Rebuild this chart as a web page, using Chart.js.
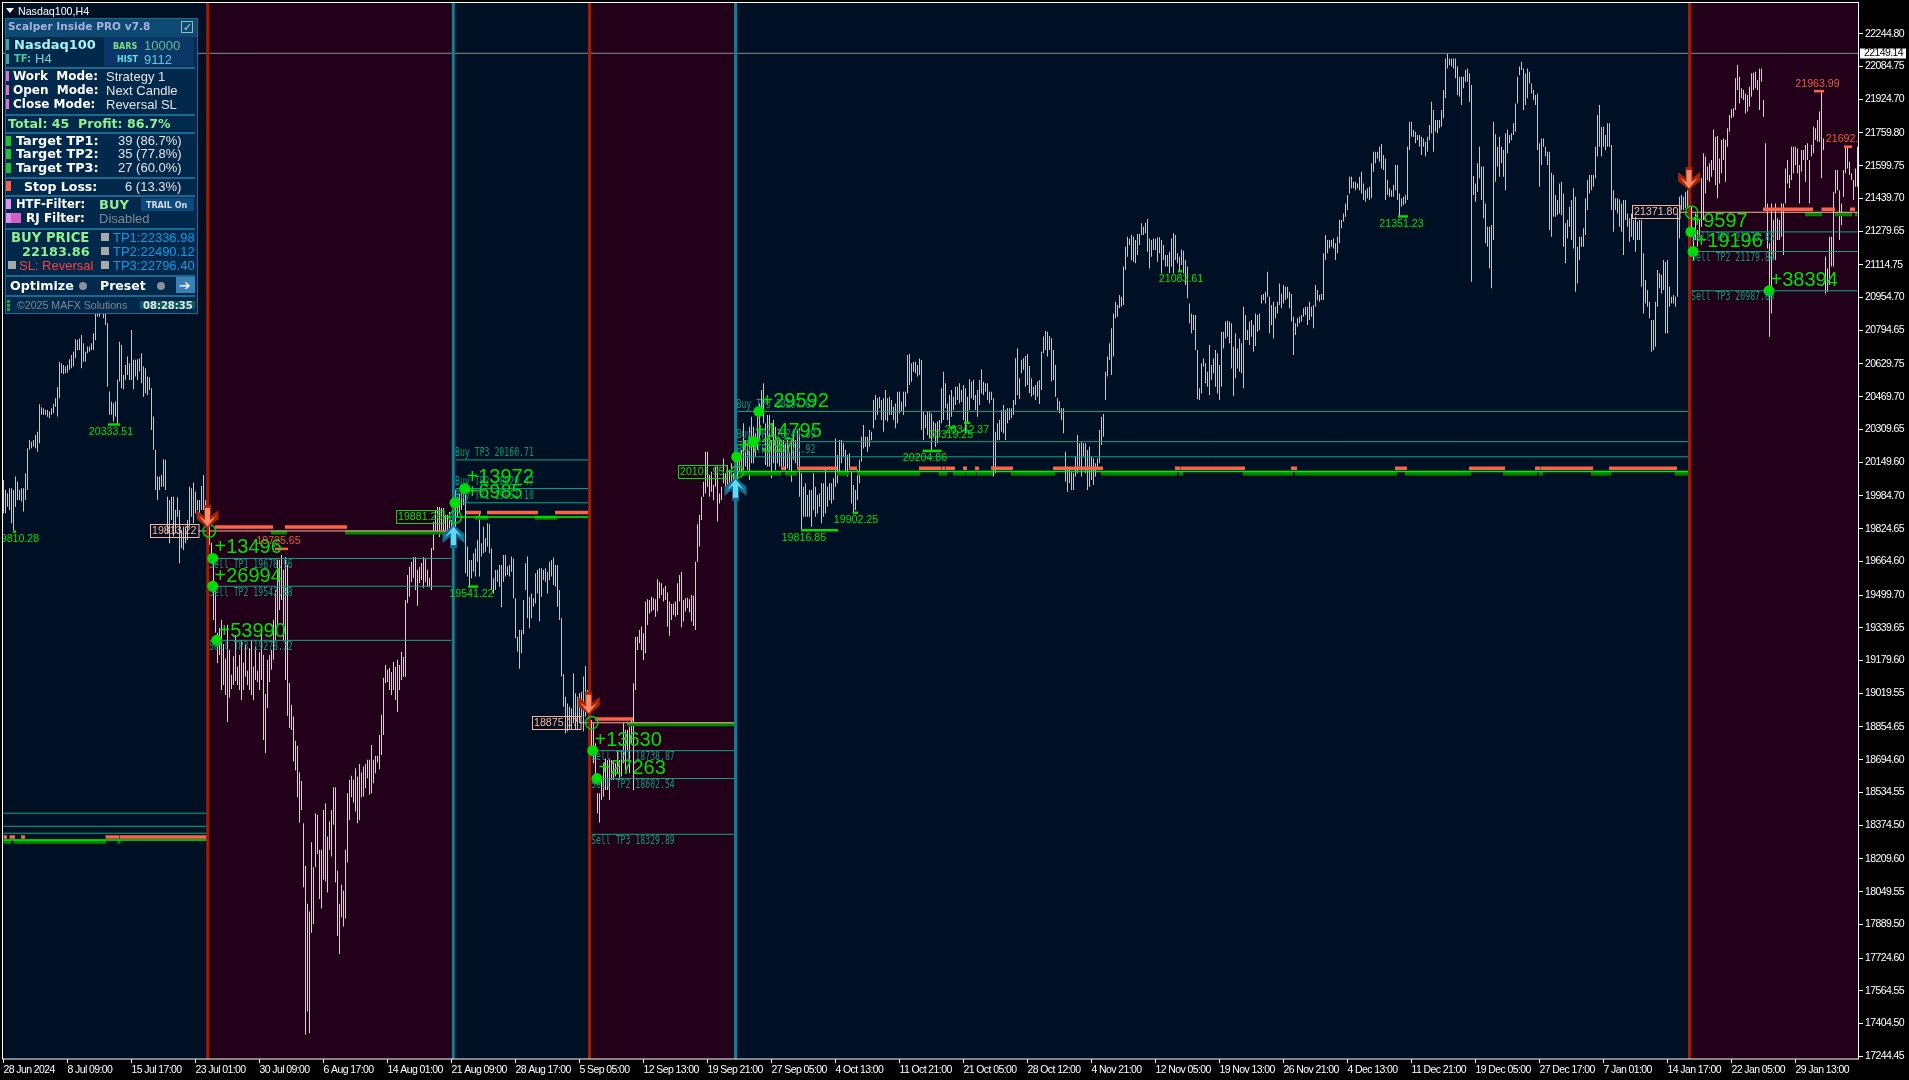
<!DOCTYPE html>
<html><head><meta charset="utf-8">
<script src="https://cdn.jsdelivr.net/npm/chart.js@4"></script>
<style>
html,body{margin:0;padding:0;background:#000;width:1909px;height:1080px;overflow:hidden}
#wrap{position:relative;width:1909px;height:1080px}
canvas{position:absolute;left:0;top:0}
#panel{position:absolute;left:5px;top:18px;width:191px;height:294px;background:#02294c;border:1px solid #1b6b93;box-sizing:content-box}
#panel div{position:absolute;white-space:pre;line-height:1}
.t{transform:translateY(-50%)}
</style></head><body><div id="wrap"><canvas id="c" width="1909" height="1080"></canvas><div id="title" style="position:absolute;left:18px;top:5px;color:#fff;font:10.67px 'Liberation Sans';white-space:pre">Nasdaq100,H4</div><div style="position:absolute;left:6px;top:8px;width:0;height:0;border-left:4px solid transparent;border-right:4px solid transparent;border-top:5px solid #fff"></div><div id="panel"></div></div>
<script>
const xLabels=["28 Jun 2024","8 Jul 09:00","15 Jul 17:00","23 Jul 01:00","30 Jul 09:00","6 Aug 17:00","14 Aug 01:00","21 Aug 09:00","28 Aug 17:00","5 Sep 05:00","12 Sep 13:00","19 Sep 21:00","27 Sep 05:00","4 Oct 13:00","11 Oct 21:00","21 Oct 05:00","28 Oct 12:00","4 Nov 21:00","12 Nov 05:00","19 Nov 13:00","26 Nov 21:00","4 Dec 13:00","11 Dec 21:00","19 Dec 05:00","27 Dec 17:00","7 Jan 01:00","14 Jan 17:00","22 Jan 05:00","29 Jan 13:00"];
const yTicks=[22244.80,22084.75,21924.70,21759.80,21599.75,21439.70,21279.65,21114.75,20954.70,20794.65,20629.75,20469.70,20309.65,20149.60,19984.70,19824.65,19664.60,19499.70,19339.65,19179.60,19019.55,18854.65,18694.60,18534.55,18374.50,18209.60,18049.55,17889.50,17724.60,17564.55,17404.50,17244.45];
const lastPrice=22149.14;
// [high, low] of each H4 bar, read section by section
const barsA=[[20063,19900],[20014,19900],[19998,19932],[20022,19916],[20022,19851],[20014,19818],[20079,19932],[20055,19965],[20014,19965],[20022,19957],[20022,19908],[20095,19965],[20218,20014],[20258,20210],[20250,20218],[20258,20226],[20283,20218],[20299,20201],[20433,20242],[20418,20381],[20413,20381],[20405,20381],[20405,20372],[20397,20364],[20413,20381],[20434,20389],[20462,20421],[20516,20373],[20641,20462],[20633,20584],[20625,20581],[20617,20584],[20625,20588],[20653,20601],[20674,20609],[20690,20617],[20751,20658],[20747,20698],[20755,20698],[20772,20609],[20731,20641],[20690,20641],[20715,20682],[20715,20690],[20731,20698],[20780,20698],[20878,20747],[20910,20861],[20959,20861],[20943,20878],[20910,20853],[20894,20821],[20829,20519],[20495,20381],[20446,20381],[20438,20348],[20446,20373],[20552,20337],[20739,20544],[20723,20511],[20576,20506],[20625,20552],[20666,20576],[20633,20552],[20796,20552],[20650,20506],[20650,20568],[20653,20552],[20658,20593],[20682,20535],[20617,20470],[20609,20487],[20568,20478],[20565,20503],[20511,20307],[20373,20210],[20210,20014],[20079,19965],[20079,20014],[20087,20030],[20164,20030],[20161,20014],[19981,19802],[19965,19753],[19981,19867],[19981,19786],[19916,19802],[19978,19883],[19916,19655],[19818,19729],[19835,19720],[19835,19753],[19867,19769],[20030,19835],[20022,19883],[20050,19851],[20006,19900],[19965,19916],[19965,19900],[20033,19916],[20087,19916],[19965,19835],[19932,19802]];
const barsB=[[19916,19745],[19755,19657],[19672,19378],[19559,19315],[19315,19168],[19339,19207],[19378,19036],[19260,19060],[19190,19011],[19354,18879],[19232,18997],[19110,19040],[19200,19060],[19305,19080],[19150,19060],[19207,19036],[19280,18987],[19170,19036],[19256,19100],[19130,19060],[19240,19036],[19280,19011],[19150,18987],[19250,19085],[19130,19075],[19220,19036],[19329,19085],[19207,18791],[19016,18728],[19183,18948],[19207,19075],[19232,19134],[19378,19183],[19525,19280],[19672,19354],[19672,19427],[19696,19476],[19623,19280],[19686,19085],[19647,18909],[19070,18850]];
const barsC=[[18963,18840],[18906,18686],[18787,18642],[18762,18511],[18633,18387],[18591,18449],[18384,18071],[18175,17349],[17990,17463],[17952,17357],[18291,17849],[18169,17890],[18433,18169],[18425,18234],[18254,18014],[18254,17967],[18449,18107],[18482,18099],[18319,18045],[18392,18254],[18449,18221],[18560,18376],[18560,18094],[18151,17833],[17990,17745],[18083,17924],[18055,17879],[18254,17918],[18531,18192],[18596,18400],[18616,18511],[18596,18485],[18653,18441],[18612,18384],[18674,18400],[18633,18511],[18661,18515],[18674,18555],[18694,18604],[18694,18523],[18767,18531],[18694,18580],[18713,18629],[18713,18681],[18816,18648],[18914,18718],[19095,18816]];
const barsD=[[19158,19070],[19134,19075],[19143,19036],[19124,19011],[19173,19036],[19148,18987],[19183,18928],[19158,19036],[19222,19085],[19197,19100],[19476,19100],[19598,19461],[19637,19491],[19662,19564],[19686,19584],[19686,19525],[19623,19447],[19637,19559],[19657,19574],[19686,19535],[19681,19564],[19623,19540],[19584,19540],[19730,19525],[19857,19720],[19916,19804],[19931,19804],[19931,19784],[19926,19818],[19926,19779],[19892,19794],[19892,19809],[19906,19818],[19867,19730],[19916,19769]];
const barsE=[[20014,19818],[19981,19883],[19997,19900],[20014,19916],[20038,19940],[20030,19606],[19737,19590],[19671,19541],[19671,19582],[19704,19614],[19728,19590],[19769,19663],[19900,19590],[19753,19688],[19834,19704],[19777,19712],[19851,19737],[19847,19704],[19728,19525],[19582,19508],[19622,19525],[19622,19565],[19647,19541],[19647,19440],[19696,19565],[19696,19590],[19639,19598],[19647,19590],[19688,19614],[19679,19484],[19484,19288],[19296,19223],[19329,19140],[19329,19215],[19476,19308],[19655,19525],[19688,19386],[19492,19337],[19508,19386],[19484,19443],[19606,19459],[19622,19508],[19631,19370],[19631,19492],[19622,19573],[19631,19565],[19614,19508],[19663,19573],[19671,19590],[19684,19549],[19647,19541],[19647,19443],[19525,19378],[19386,19101],[19112,18954],[19003,18824],[18970,18832],[18954,18840],[18946,18840],[19117,18873],[19019,18840],[19003,18840],[19019,18873],[19027,18905],[19101,18832],[19153,18905],[19036,18987],[18905,18791],[18889,18759],[18873,18677],[18775,18612],[18530,18432],[18530,18387],[18612,18498],[18677,18514],[18701,18547],[18693,18547],[18701,18498],[18693,18595],[18693,18595],[18677,18612],[18742,18628],[18693,18595],[18742,18612],[18873,18677],[18840,18644],[18840,18742],[18856,18628],[18889,18775],[19068,18547],[19296,19036],[19296,19231],[19329,19264],[19345,19231],[19313,19182],[19468,19215],[19479,19353],[19476,19410],[19492,19419],[19484,19427],[19479,19394],[19577,19419],[19565,19484],[19557,19500],[19533,19468],[19544,19476],[19512,19345],[19468,19301],[19456,19378],[19459,19402],[19468,19394],[19557,19402],[19598,19468],[19614,19342],[19476,19370],[19484,19419],[19487,19435],[19479,19414],[19500,19370],[19497,19349],[19663,19329],[19846,19663],[19891,19737],[19981,19867],[20054,19981],[20201,19997],[20201,20030],[20087,19981],[20103,20005],[20038,19965],[20128,20030],[20128,19859],[19997,19948],[20030,19965],[20168,20046],[20095,19989],[20136,20022],[20111,20030],[20144,20022],[20095,19997]];
const barsF=[[20168,20095],[20160,20030],[20193,20095],[20209,20095],[20340,20103],[20258,20128],[20242,20111],[20323,20062],[20372,20144],[20323,20144],[20291,20176],[20372,20209],[20437,20258],[20502,20388],[20535,20340],[20340,20136],[20380,20128],[20380,20128],[20258,20071],[20356,20144],[20323,20111],[20258,20144],[20258,20128],[20258,20128],[20258,20128],[20242,20111],[20258,20119],[20193,20111],[20258,20054],[20291,20160],[20258,20144],[20307,20128],[20315,19981],[20095,19818],[20030,19883],[20046,19883],[19989,19883],[20014,19883],[20014,19834],[20095,19916],[20030,19883],[19989,19899],[19997,19932],[20046,19851],[20046,19883],[20111,19899],[20030,19932],[20046,19965],[20046,19948],[20071,19965],[20266,20030],[20185,20046],[20258,20095],[20258,20144],[20242,20176],[20209,20095],[20185,20079],[20193,20111],[20103,19948],[20038,19899],[20014,19916],[20111,19965],[20160,20046],[20274,20152],[20331,20217],[20274,20225],[20274,20201],[20307,20225],[20299,20258],[20454,20315],[20478,20356],[20462,20380],[20470,20413],[20454,20356],[20462,20299],[20502,20356],[20462,20348],[20470,20380],[20454,20380],[20421,20356],[20437,20315],[20494,20340],[20494,20388],[20445,20397],[20494,20380],[20494,20421],[20674,20486],[20679,20527],[20633,20543],[20641,20592],[20641,20584],[20625,20568],[20657,20576],[20649,20307],[20397,20258],[20380,20315],[20397,20282],[20397,20266],[20388,20209],[20348,20274],[20340,20225],[20348,20242],[20356,20274],[20511,20340],[20592,20356],[20535,20413],[20437,20356],[20478,20315],[20502,20372],[20470,20405],[20519,20429],[20519,20454],[20535,20437],[20502,20445],[20527,20356],[20511,20291],[20470,20340],[20555,20405],[20543,20462],[20551,20454],[20478,20405],[20502,20372],[20551,20429],[20604,20486],[20543,20478],[20535,20494],[20535,20454],[20494,20437],[20494,20454],[20462,20079],[20299,20095],[20340,20258],[20356,20258],[20405,20299],[20429,20291],[20405,20258],[20413,20340],[20413,20356],[20413,20364],[20454,20380]];
const barsG=[[20658,20430],[20707,20478],[20560,20459],[20650,20584],[20658,20601],[20669,20519],[20679,20527],[20620,20487],[20560,20470],[20519,20478],[20527,20454],[20544,20470],[20552,20434],[20690,20503],[20764,20682],[20791,20698],[20788,20666],[20767,20698],[20756,20544],[20698,20552],[20625,20470],[20462,20405],[20449,20389],[20413,20356],[20413,20291]];
const barsH=[[20201,20054],[20128,20005],[20111,20046],[20103,20014],[20095,20014],[20176,20079],[20282,20095],[20242,20128],[20250,20079],[20242,20176],[20242,20095],[20209,20014],[20225,20030],[20176,20062],[20168,20038],[20144,20079],[20168,20111],[20307,20144],[20372,20234],[20385,20274]];
const barsI=[[20592,20454],[20666,20568],[20731,20649],[20804,20576],[20877,20666],[20934,20853],[20918,20861],[20967,20902],[20959,20910],[21106,20918],[21203,21089],[21252,21154],[21244,21212],[21260,21138],[21252,21130],[21236,21122],[21265,21163],[21265,21212],[21318,21260],[21301,21260],[21321,21269],[21339,21179],[21244,21097],[21236,21154],[21244,21187],[21241,21187],[21249,21130],[21249,21171],[21236,21073],[21212,21138],[21163,21106],[21163,21106],[21179,21073],[21244,21106],[21269,21073],[21260,21138],[21171,21122],[21154,21089],[21190,21114],[21184,21073],[21138,21016],[21106,20951],[20926,20829],[20877,20780],[20869,20796],[20869,20698],[20698,20457],[20511,20454],[20633,20486],[20657,20617],[20633,20535],[20592,20519],[20723,20478],[20625,20551],[20657,20584],[20698,20519],[20682,20486],[20625,20454],[20788,20519],[20788,20706],[20837,20755],[20841,20763],[20837,20731],[20829,20608],[20714,20473],[20780,20560],[20706,20608],[20755,20592],[20731,20584],[20910,20511],[20869,20747],[20796,20747],[20837,20723],[20845,20763],[20820,20690],[20877,20718],[20869,20788],[20877,20796],[20967,20926],[20972,20943],[20983,20926],[21081,20959],[20959,20780],[20918,20820],[20934,20755],[20910,20853],[20934,20877],[21024,20918],[20975,20902],[21016,20926],[21008,20943],[21008,20951],[20983,20902],[20972,20837],[20861,20674],[20829,20771],[20853,20812],[20861,20829],[20869,20837],[20902,20861],[20910,20869],[20910,20820],[20934,20845],[20910,20861],[20918,20804],[21016,20910],[20991,20943],[20967,20934],[20972,20943],[21171,20943],[21260,21138],[21236,21171],[21236,21195],[21236,21203],[21244,21195],[21220,21138],[21252,21171],[21334,21220],[21334,21293],[21366,21326],[21415,21350],[21456,21383],[21546,21464],[21546,21489],[21521,21489],[21521,21480],[21513,21489],[21546,21480],[21570,21464],[21513,21432],[21480,21423],[21489,21440],[21497,21432],[21611,21440],[21668,21570],[21668,21611],[21668,21635],[21692,21619],[21705,21586],[21652,21578],[21635,21432],[21529,21456],[21489,21448],[21480,21448],[21505,21448],[21603,21480],[21603,21432],[21464,21350],[21440,21399],[21448,21407],[21456,21415],[21692,21432],[21815,21676],[21815,21741],[21774,21741],[21766,21709],[21749,21725],[21749,21692],[21741,21652],[21733,21692],[21717,21644],[21741,21668],[21798,21725],[21912,21758],[21872,21668],[21823,21766],[21823,21758],[21823,21782],[21872,21790],[21970,21831],[22124,21929],[22149,22075],[22124,22092],[22124,22084],[22124,22075],[22124,22027],[22084,21945],[22035,21937],[22035,21896],[22035,21978],[22067,22010],[22075,22010],[22051,21912],[21994,21032],[21549,21456],[21513,21423],[21611,21472],[21692,21538],[21595,21432],[21595,21342],[21415,21220],[21301,21203],[21301,21097],[21309,21000],[21815,21236],[21753,21521],[21692,21595],[21741,21546],[21692,21611],[21676,21546],[21758,21480],[21777,21660],[21749,21709],[21758,21725],[21807,21749],[21904,21766],[22035,21904],[22084,22043],[22108,22067],[22075,21872],[22051,21896],[22075,21929],[22059,22002],[22002,21953],[21970,21921],[21945,21896],[21953,21676],[21709,21497],[21733,21603],[21733,21692],[21692,21644],[21668,21603],[21668,21285],[21565,21252],[21554,21350],[21456,21350],[21432,21358],[21513,21366],[21521,21358],[21464,21203],[21318,21122],[21334,21244],[21399,21301],[21432,21236],[21489,21195],[21448,20983],[21203,21024],[21252,21138],[21252,21203],[21293,21203],[21440,21260],[21529,21383],[21554,21464],[21554,21480],[21554,21497],[21692,21538],[21847,21644],[21896,21692],[21790,21644],[21790,21692],[21749,21676],[21807,21692],[21807,21692],[21701,21383],[21480,21277],[21440,21383],[21440,21366]];
const barsJ=[[21435,21301],[21415,21277],[21432,21163],[21432,21334],[21366,21301],[21342,21228],[21366,21252],[21334,21236],[21350,21179],[21326,21236],[21334,21236],[21334,21008],[21171,20877],[21040,20926],[20991,20910],[20934,20853],[20845,20690],[20845,20698],[20934,20714],[21089,20910],[21073,21000],[21065,20975],[21138,20991],[21130,20780],[21138,20780],[21008,20910],[20959,20926],[20967,20926],[20959,20910],[21366,20959],[21448,21244],[21456,21383],[21448,21383],[21472,21391],[21480,21399],[21513,21334],[21399,21252],[21269,21138],[21366,21236],[21285,21203],[21334,21252],[21538,21301],[21660,21334],[21644,21464],[21595,21529],[21611,21521],[21627,21546],[21777,21578],[21741,21505],[21745,21440],[21635,21513],[21725,21562],[21733,21627],[21725,21521],[21782,21692],[21847,21766],[21875,21831],[21880,21839],[22027,21872],[22092,21970],[22035,21904],[21978,21929],[21970,21921],[21953,21855],[21945,21864],[21986,21888],[22051,21937],[22054,21970],[22059,21978],[22018,21970],[22075,21872],[22075,22010],[21921,21839],[21709,21383],[21415,21195],[21220,20763],[21415,20877],[21334,21146],[21415,21138],[21342,21236],[21334,21236],[21415,21252],[21415,21163],[21586,21415],[21627,21513],[21554,21489],[21692,21529],[21692,21562],[21692,21603],[21684,21562],[21603,21415],[21676,21570],[21676,21627],[21701,21521],[21709,21627],[21627,21415],[21701,21644],[21790,21660],[21782,21725],[21823,21717],[21864,21717],[21961,21538],[21733,21676],[21155,20975],[21097,20983],[21252,21016],[21252,21106],[21472,21106],[21578,21464],[21578,21480],[21480,21236],[21415,21309],[21578,21448],[21692,21562],[21692,21586],[21619,21554],[21562,21529],[21529,21432],[21586,21497],[21692,21497]];
const barSections=[[0,barsA],[103,barsB],[144,barsC],[191,barsD],[226,barsE],[366,barsF],[506,barsG],[531,barsH],[551,barsI],[808,barsJ]];
// signal bars: [bar index, kind]
const signals=[[102.1,'sell'],[224.9,'buy'],[293,'sell'],[366,'buy'],[843,'sell']];
// indicator state bars: [price, [[from,to],...]]
const orangeLevels=[
[18317,[[0,1.75],[3,5.75],[8.75,10.75],[51,57.75],[58,101.6]]],
[19833,[[105.75,134.75],[140.75,171.75]]],
[19903,[[231.25,238.75],[241.75,267.25],[275.75,292.75]]],
[18894,[[295.75,314.75]]],
[20120,[[388.75,390.75],[396.75,416.75],[422.75,426.75],[457.75,468.75],[469,470.75],[471,475.75],[479.75,481.75],[485.75,487.75],[493.75,504.75],[524.75,549.75],[585.75,588.5],[588.75,620.75],[643.75,646.75],[695.75,701.75],[732.75,750.75],[765.75,768.5],[768.75,794.75],[802.75,836.75]]],
[21386,[[879.75,904.75],[909,915.75],[923.25,925.75]]]];
const darkGreenLevels=[
[18293,[[0,1.25],[1.25,3.75],[5,51.25],[57,58.5]]],
[19806,[[133.75,141.75],[170.75,222.25]]],
[19878,[[235.75,242.25],[265.75,276.75]]],
[18868,[[311.75,365.75]]],
[20094,[[367.25,388.75],[390.75,396.75],[416.75,422.75],[426.75,458.25],[467.75,471.75],[474.75,480.75],[481.25,486.25],[486.75,494.75],[503.75,525.75],[548.75,586.75],[587.75,589.75],[619.75,644.75],[645.75,696.75],[700.75,733.75],[749.75,766.75],[767.75,769.75],[793.75,803.75],[835.75,842.25]]],
[21362,[[900.75,909.25],[915.75,924.25],[925.75,927]]]];
const entryLines=[[19813.22,97.25,224,'sell'],[19881.26,219.75,292.75,'buy'],[18875.17,288.25,365.75,'sell'],[20103.5,361.25,842.25,'buy'],[21371.80,837.75,927,'sell'],[18302,0,102,'buy']];
const entryBoxes=[["19813.22",73,97.25,19813.22,'sell'],["19881.26",196,219.75,19881.26,'buy'],["18875.17",264,288.25,18875.17,'sell'],["20101.95",337,361.25,20101.95,'buy'],["21371.80",814,837.75,21371.80,'sell']];
const tpLines=[[18433,0,102],[18369,0,102],[18335,0,102],[19678.96,103,224],[19542.88,103,224],[19278.32,103,224],[19951.10,226,292.75],[20020.47,226,292.75],[20160.71,226,292.75],[18738.87,294,365.75],[18602.54,294,365.75],[18329.89,294,365.75],[20175.92,367,842.25],[20249.89,367,842.25],[20397.87,367,842.25],[21275.83,844,927],[21179.84,844,927],[20987.80,844,927]];
const tpTexts=[["Sell TP1 19678.96",102.75,19678.96,1],["Sell TP2 19542.88",102.75,19542.88,1],["Sell TP3 19278.32",102.75,19278.32,1],["Buy TP3 20160.71",225.75,20160.71,-1],["Buy TP2 20020.47",225.75,20020.47,-1],["Buy TP1 19951.10",225.75,19951.10,-1],["Sell TP1 18738.87",293.75,18738.87,1],["Sell TP2 18602.54",293.75,18602.54,1],["Sell TP3 18329.89",293.75,18329.89,1],["Buy TP3 20397.87",366.5,20397.87,-1],["Buy TP2 20249.89",366.5,20249.89,-1],["Buy TP1 20175.92",366.5,20175.92,-1],["Sell TP1 21275.83",843.75,21275.83,1],["Sell TP2 21179.84",843.75,21179.84,1],["Sell TP3 20987.80",843.75,20987.80,1]];
const hitDots=[[104.6,19678.96],[104.6,19542.88],[106.6,19278.32],[225.75,19951.10],[230.6,20020.47],[294.6,18738.87],[296.75,18602.54],[366.6,20175.92],[374.75,20249.89],[377.75,20397.87],[843.75,21275.83],[844.75,21179.84],[882.75,20987.80]];
const entryCircles=[[102.9,19813.22],[225.9,19881.26],[294.1,18875.17],[366.9,20101.95],[844.1,21371.80]];
const arrows=[[102,19828,'sell'],[225,19843,'buy'],[292.6,18914,'sell'],[366,20073,'buy'],[842.75,21481,'sell']];
const profitTexts=[["+13496",105.5,19730],["+26994",105.5,19593],["+53990",107.5,19324],["+13972",231.5,20074],["+6985",231.5,20001],["+13630",295.5,18790],["+27263",297.5,18653],["+7397",367.5,20224],["+14795",375.5,20299],["+29592",379,20446],["+9597",844,21326],["+19196",846,21228],["+38394",883.5,21039]];
// swing labels: [text, price, dash from, dash to, text centre]
const swingLows=[["19810.28",19810.28,4.75,6.25,6.75],["20333.51",20333.51,52.25,58.25,53.75],["19541.22",19541.22,232.25,237.25,234],["19816.85",19816.85,398.75,417.25,400.2],["19902.25",19902.25,424.6,427.25,426.25],["20204.86",20204.86,459.6,469.1,460.75],["20319.25",20319.25,473.25,476.25,473.75],["20342.37",20342.37,480.25,483.25,481.75],["21083.61",21083.61,587.25,589.25,588.75],["21351.23",21351.23,697.25,702.25,699]];
const swingHighs=[["19725.65",19725.65,135.75,142.25,137.5],["21963.99",21963.99,905.25,910.25,907],["21692.37",21692.37,920.25,924.25,922.25]];

const highs=[],lows=[];
barSections.forEach(([s,a])=>a.forEach((b,i)=>{highs[s+i]=b[0];lows[s+i]=b[1];}));
const NAVY='#001024',MAROON='#22001a',RED='#a81a00',TEAL='#0c7f98',BUYC='#00e000',ORANGE='#ff6347',DGREEN='#008800',TPC='#14a483',PEACH='#ffb496';
const YMIN=17231,YMAX=22400;
function inMaroon(i){let k='buy';for(const s of signals){if(i>=s[0])k=s[1];}return k==='sell';}
const barData=[];for(let i=0;i<highs.length;i++){if(highs[i]!==undefined)barData.push({x:i,y:[lows[i],highs[i]]});}
function segs(level,list){const d=[];list.forEach(s=>{d.push({x:s[0],y:level},{x:s[1],y:level},{x:s[1],y:null});});return d;}
function lineDs(data,color,w,order){return {type:'line',data,borderColor:color,borderWidth:w,pointRadius:0,spanGaps:false,tension:0,order,borderCapStyle:'butt',fill:false};}
const datasets=[];
datasets.push({type:'bar',data:barData,barThickness:1,inflateAmount:0,borderWidth:0,grouped:false,order:20,backgroundColor:c=>inMaroon(c.raw?c.raw.x:0)?'#dccbd5':'#c2c6ce'});
tpLines.forEach(t=>datasets.push(lineDs([{x:t[1],y:t[0]},{x:t[2],y:t[0]}],TPC,1,10)));
entryLines.forEach(t=>datasets.push(lineDs([{x:t[1],y:t[0]},{x:t[2],y:t[0]}],t[3]==='sell'?PEACH:'#00f000',t[3]==='sell'?1:1.5,8)));
orangeLevels.forEach(l=>datasets.push(lineDs(segs(l[0],l[1]),ORANGE,3.5,9)));
darkGreenLevels.forEach(l=>datasets.push(lineDs(segs(l[0],l[1]),DGREEN,4,9)));
swingLows.forEach(s=>datasets.push(lineDs([{x:s[2],y:s[1]},{x:s[3],y:s[1]}],BUYC,2.5,7)));
swingHighs.forEach(s=>datasets.push(lineDs([{x:s[2],y:s[1]},{x:s[3],y:s[1]}],ORANGE,2.5,7)));
datasets.push(lineDs([{x:-0.25,y:lastPrice},{x:927.75,y:lastPrice}],'#8c8c8c',1,11));
signals.forEach(s=>datasets.push(lineDs([{x:s[0],y:YMIN},{x:s[0],y:YMAX}],s[1]==='sell'?RED:TEAL,3,6)));
datasets.push({type:'scatter',data:entryCircles.map(p=>({x:p[0],y:p[1]})),pointRadius:6.2,pointBackgroundColor:'transparent',pointBorderColor:'#00d000',pointBorderWidth:1.5,order:3});
datasets.push({type:'scatter',data:hitDots.map(p=>({x:p[0],y:p[1]})),pointRadius:5.5,pointBackgroundColor:BUYC,pointBorderColor:BUYC,pointBorderWidth:0,order:2});

const TICKFONT="10.5px 'Liberation Sans'";
const deco={id:'deco',
afterLayout(ch){const a=ch.chartArea,x=ch.scales.x,y=ch.scales.y;
 a.left=3;a.right=1859;a.top=2;a.bottom=1059;a.width=1856;a.height=1057;
 x.left=3;x.right=1859;x.width=1856;x.top=1059;x.bottom=1080;x.height=21;x.configure();
 y.left=1859;y.right=1909;y.width=50;y.top=2;y.bottom=1059;y.height=1057;y.configure();},
beforeDraw(ch){ch.ctx.letterSpacing='-0.6px';},
beforeDatasetsDraw(ch){const {ctx,chartArea:a,scales:{x}}=ch;ctx.save();ctx.fillStyle=NAVY;ctx.fillRect(a.left,a.top,a.width,a.height);
 signals.forEach((s,k)=>{if(s[1]==='sell'){const e=k+1<signals.length?signals[k+1][0]:927.75;const l=x.getPixelForValue(s[0]),r=x.getPixelForValue(e);ctx.fillStyle=MAROON;ctx.fillRect(l,a.top,r-l,a.height);}});ctx.restore();},
afterDatasetsDraw(ch){const {ctx,chartArea:a,scales:{x,y}}=ch;
 ctx.save();ctx.letterSpacing='0px';ctx.beginPath();ctx.rect(a.left,a.top,a.width,a.height);ctx.clip();
 // arrows
 arrows.forEach(t=>{const px=x.getPixelForValue(t[0]),py=y.getPixelForValue(t[1]),sgn=t[2]==='sell'?1:-1;
  const poly=[[-3.5,-23],[3.5,-23],[3.5,-12],[11,-18],[11,-9],[0,0],[-11,-9],[-11,-18],[-3.5,-12]];
  const face=[[-2.5,-20],[2.5,-20],[2.5,-8],[8.5,-12],[0,-1.5],[-8.5,-12],[-2.5,-8]];
  ctx.fillStyle=t[2]==='sell'?'#a82408':'#126f92';ctx.beginPath();poly.forEach((p,i)=>{const X=px+p[0],Y=py+sgn*p[1];i?ctx.lineTo(X,Y):ctx.moveTo(X,Y);});ctx.closePath();ctx.fill();
  ctx.fillStyle=t[2]==='sell'?'#ff8a68':'#62d8f6';ctx.beginPath();face.forEach((p,i)=>{const X=px+p[0],Y=py+sgn*p[1];i?ctx.lineTo(X,Y):ctx.moveTo(X,Y);});ctx.closePath();ctx.fill();});
 // TP labels
 ctx.textBaseline='middle';ctx.textAlign='left';
 tpTexts.forEach(t=>{const X=x.getPixelForValue(t[1]),Y=y.getPixelForValue(t[2])+t[3]*6.5;ctx.save();ctx.translate(X,Y);ctx.scale(1,1.4);ctx.font="8.2px 'DejaVu Sans Mono'";ctx.fillStyle='#0c9a78';ctx.fillText(t[0],0,0);ctx.restore();});
 // profit labels
 ctx.font="20px 'Liberation Sans'";ctx.fillStyle=BUYC;
 profitTexts.forEach(t=>ctx.fillText(t[0],x.getPixelForValue(t[1]),y.getPixelForValue(t[2])));
 // swing labels
 ctx.font="10.67px 'Liberation Sans'";ctx.textAlign='center';ctx.fillStyle=BUYC;
 swingLows.forEach(s=>ctx.fillText(s[0],x.getPixelForValue(s[4]),y.getPixelForValue(s[1])+7.5));
 ctx.fillStyle='#ea5c40';
 swingHighs.forEach(s=>ctx.fillText(s[0],x.getPixelForValue(s[4]),y.getPixelForValue(s[1])-7.5));
 // entry boxes
 ctx.textAlign='left';
 entryBoxes.forEach(b=>{const l=x.getPixelForValue(b[1]),r=x.getPixelForValue(b[2]),m=Math.round(y.getPixelForValue(b[3]));const col=b[4]==='sell'?PEACH:'#00e000';ctx.strokeStyle=col;ctx.lineWidth=1;ctx.strokeRect(Math.round(l)+.5,m-6.5,r-l,13);ctx.fillStyle=col;ctx.fillText(b[0],l+2.5,m+0.5);});
 ctx.restore();
 // frame + last price
 ctx.save();ctx.strokeStyle='#fff';ctx.lineWidth=1;ctx.strokeRect(a.left-.5,a.top+.5,a.width,a.height-.5);
 const Y=Math.round(y.getPixelForValue(lastPrice));ctx.fillStyle='#fff';ctx.fillRect(a.right+1,Y-4.5,46,10);ctx.fillStyle='#000';ctx.font=TICKFONT;ctx.textBaseline='middle';ctx.textAlign='left';ctx.fillText(lastPrice.toFixed(2),a.right+5,Y+.5);ctx.restore();}
};
Chart.defaults.font.family="'Liberation Sans'";
new Chart(document.getElementById('c'),{type:'bar',data:{datasets},plugins:[deco],options:{responsive:false,animation:false,events:[],devicePixelRatio:1,
 layout:{padding:{left:3,top:2,right:0,bottom:0}},
 plugins:{legend:{display:false},tooltip:{enabled:false},title:{display:false}},
 scales:{
  x:{type:'linear',min:-0.25,max:927.75,offset:false,position:'bottom',border:{display:false},grid:{drawOnChartArea:false,drawTicks:true,tickLength:4,color:'#fff',offset:false},
   ticks:{autoSkip:false,maxRotation:0,minRotation:0,align:'start',color:'#fff',padding:1,font:{size:10.5},callback:(v,i)=>xLabels[i]},
   afterBuildTicks:s=>{s.ticks=xLabels.map((_,i)=>({value:i*32}));},
   afterFit:s=>{s.height=21;s.paddingLeft=0;s.paddingRight=0;s.paddingTop=0;s.paddingBottom=0;}},
  y:{type:'linear',position:'right',min:YMIN,max:YMAX,border:{display:false},grid:{drawOnChartArea:false,drawTicks:true,tickLength:4,color:'#fff'},
   ticks:{autoSkip:false,color:'#fff',padding:2,font:{size:10.5},callback:v=>v.toFixed(2)},
   afterBuildTicks:s=>{s.ticks=yTicks.map(v=>({value:v}));},
   afterFit:s=>{s.width=50;s.paddingLeft=0;s.paddingRight=0;s.paddingTop=0;s.paddingBottom=0;}}
 }}});

// ---- info panel (HTML text over the chart) ----
const P=document.getElementById('panel');
const F=s=>`bold ${s}px 'DejaVu Sans'`,R="13px 'Liberation Sans'";
function T(text,x,y,font,color,extra){const d=document.createElement('div');d.textContent=text;d.className='t';d.style.cssText=`left:${x-6}px;top:${y-19}px;font:${font};color:${color};${extra||''}`;P.appendChild(d);return d;}
function Box(x,y,w,h,c,extra){const d=document.createElement('div');d.style.cssText=`left:${x-6}px;top:${y-19}px;width:${w}px;height:${h}px;background:${c};${extra||''}`;P.appendChild(d);return d;}
Box(6,19,191,18,'#0d4a72');
Box(104,37,90,29,'#0a3768');
[[67],[114],[132],[177],[195],[228],[275],[295]].forEach(v=>Box(6,v[0],189,2,'#1a6a90'));
Box(6,39,3,11,'#3aa8a0');Box(6,54,3,10,'#3aa8a0');
[71,85,99].forEach(v=>Box(6,v,3,10,'#e070d0'));
[136,149,163].forEach(v=>Box(6,v,5,10,'#20c428'));
Box(6,181,5,10,'#ff6040');Box(6,199,5,10,'#e090f0');
Box(6,213,15,10,'#d060c8');Box(6,213,5,10,'#e58ef0');
Box(141,198,53,13,'#0a4a80');
Box(181,21,12,12,'transparent','border:1px solid #a8b4bc;box-sizing:border-box');
T('✓',183,27,F(11),'#c8d0d8');
T('Scalper Inside PRO v7.8',8,26,F(10.5),'#a8b0e0','letter-spacing:.05px');
T('Nasdaq100',14,44,F(13),'#a8f4f4');
T('TF:',14,58,F(10),'#48c8a0');T('H4',35,58,R,'#80d0d0');
T('BARS',113,46,F(8),'#80e080');T('10000',144,45,R,'#60c090');
T('HIST',117,59,F(8),'#60e0f0');T('9112',144,59,R,'#60c8e0');
T('Work  Mode:',13,76,F(12),'#fff');T('Strategy 1',106,76,R,'#e4e4e4');
T('Open  Mode:',13,90,F(12),'#fff');T('Next Candle',106,90,R,'#e4e4e4');
T('Close Mode:',13,104,F(12),'#fff');T('Reversal SL',106,104,R,'#e4e4e4');
T('Total: 45  Profit: 86.7%',8,123,F(12.6),'#90f090');
T('Target TP1:',16,140,F(12.8),'#fff');T('39 (86.7%)',118,140,R,'#e4e4e4');
T('Target TP2:',16,153,F(12.8),'#fff');T('35 (77.8%)',118,153,R,'#e4e4e4');
T('Target TP3:',16,167,F(12.8),'#fff');T('27 (60.0%)',118,167,R,'#e4e4e4');
T('Stop Loss:',24,186,F(12.5),'#fff');T('6 (13.3%)',125,186,R,'#e4e4e4');
T('HTF-Filter:',16,204,F(11.5),'#fff');T('BUY',99,204,F(13),'#90f090');T('TRAIL On',146,205,F(8),'#d8dce0');
T('RJ Filter:',26,218,F(12),'#fff');T('Disabled',99,218,R,'#7e8890');
T('BUY PRICE',11,237,F(13.2),'#90f090');T('22183.86',22,251,F(12.9),'#90f090');
[[101,233],[101,247],[101,261],[8,261]].forEach(v=>Box(v[0],v[1],8,8,'#a8a8a8'));
T('TP1:22336.98',113,237,R,'#0a9ce8');T('TP2:22490.12',113,251,R,'#0a9ce8');T('TP3:22796.40',113,265,R,'#0a9ce8');
T('SL: Reversal',19,265,R,'#ff4040');
T('Optimize',10,285,F(12.7),'#fff');T('Preset',100,285,F(12.5),'#fff');
Box(79,282,8,8,'#8a9098','border-radius:50%');Box(157,282,8,8,'#8a9098','border-radius:50%');
Box(176,277,19,16,'#3a80b4');T('➔',179,285,F(14),'#e8f0f8');
Box(7,300,3,3,'#20a848');Box(7,304,3,3,'#20a848');Box(7,308,3,3,'#20a848');
Box(140,301,55,8,'#0c5a5c');
T('©2025 MAFX Solutions',17,305,"10.6px 'Liberation Sans'",'#7e8890');
T('08:28:35',143,305,F(10),'#e0e8e8');
</script></body></html>
